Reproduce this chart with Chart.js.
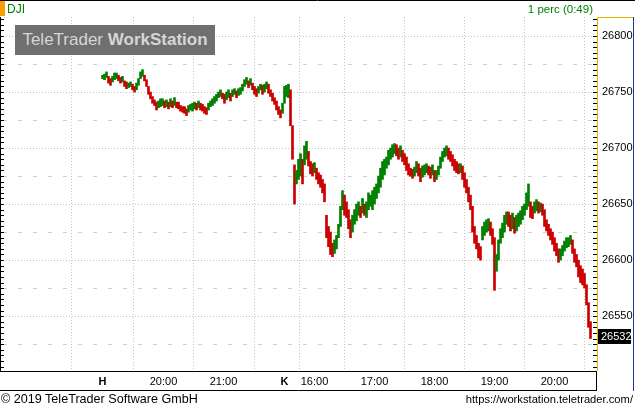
<!DOCTYPE html>
<html>
<head>
<meta charset="utf-8">
<script src="https://cdn.jsdelivr.net/npm/chart.js@4.4.1/dist/chart.umd.min.js"></script>
<style>
html, body { margin: 0; padding: 0; background: #fff; }
#wrap { position: relative; width: 635px; height: 408px; overflow: hidden; font-family: "Liberation Sans", Arial, sans-serif; }
#wrap canvas { position: absolute; left: 0; top: 0; }
.t { position: absolute; white-space: nowrap; font-size: 12px; line-height: 14px; }
#wm { position: absolute; left: 15px; top: 25px; width: 200px; height: 30px; background: #6f6f6f; color: #d6d6d6;
      font-size: 17px; line-height: 30px; text-align: center; white-space: nowrap; }
</style>
</head>
<body>
<div id="wrap">
  <canvas id="chart" width="635" height="408"></canvas>
  <div class="t" style="left:7px;top:2px;color:#008000">DJI</div>
  <div class="t" style="right:42px;top:2px;color:#008000;font-size:11.5px">1 perc (0:49)</div>
  <div id="wm">TeleTrader <b>WorkStation</b></div>
  <div class="t" style="left:1px;top:392px;color:#000;font-size:12.6px">© 2019 TeleTrader Software GmbH</div>
  <div class="t" style="right:2px;top:392px;color:#000;font-size:11.2px">https://workstation.teletrader.com/</div>
</div>
<script>
// DJI 1-minute bars, shown every 2 minutes; x = minutes after Monday 19:00
const monStart = 0;
const tueStart = 182;   // Tuesday 15:30 sits right after Monday close
const barStep = 2;

const monLow = [26762, 26761, 26763, 26758, 26756, 26759, 26761, 26762, 26760, 26758,
  26759, 26755, 26753, 26754, 26755, 26752, 26750, 26752, 26756, 26762,
  26764, 26760, 26755, 26748, 26744, 26740, 26738, 26734, 26736, 26737,
  26738, 26736, 26737, 26735, 26737, 26736, 26738, 26736, 26735, 26733,
  26732, 26731, 26729, 26732, 26734, 26733, 26735, 26734, 26736, 26734,
  26733, 26731, 26730, 26734, 26737, 26738, 26740, 26742, 26745, 26746,
  26744, 26740, 26743, 26745, 26742, 26746, 26748, 26745, 26747, 26748,
  26751, 26755, 26757, 26754, 26756, 26752, 26748, 26746, 26749, 26752,
  26748, 26750, 26753, 26749, 26746, 26742, 26739, 26734, 26730, 26727,
  26731];
const monHigh = [26765, 26766, 26768, 26764, 26762, 26764, 26767, 26767, 26765, 26763,
  26764, 26760, 26759, 26758, 26759, 26757, 26755, 26758, 26762, 26768,
  26770, 26765, 26761, 26755, 26750, 26746, 26743, 26741, 26742, 26744,
  26744, 26742, 26743, 26741, 26744, 26742, 26745, 26741, 26741, 26738,
  26737, 26737, 26735, 26738, 26739, 26740, 26741, 26740, 26742, 26740,
  26739, 26737, 26736, 26740, 26742, 26744, 26746, 26748, 26750, 26752,
  26749, 26748, 26750, 26752, 26749, 26752, 26753, 26751, 26753, 26754,
  26757, 26761, 26763, 26760, 26762, 26758, 26755, 26753, 26755, 26757,
  26756, 26757, 26759, 26757, 26752, 26749, 26745, 26742, 26737, 26734,
  26740];

const tueLow = [26740, 26746, 26745, 26720, 26690, 26650, 26668, 26672, 26675, 26668,
  26685, 26690, 26684, 26677, 26675, 26678, 26672, 26668, 26665, 26660,
  26652, 26620, 26612, 26605, 26603, 26606, 26610, 26620, 26630, 26645,
  26640, 26638, 26628, 26620, 26625, 26632, 26635, 26640, 26638, 26642,
  26640, 26638, 26645, 26648, 26645, 26650, 26655, 26660, 26665, 26672,
  26676, 26682, 26685, 26690, 26692, 26695, 26693, 26690, 26692, 26688,
  26685, 26680, 26676, 26675, 26673, 26675, 26678, 26675, 26670, 26674,
  26676, 26678, 26676, 26673, 26676, 26670, 26672, 26676, 26682, 26688,
  26692, 26693, 26690, 26688, 26684, 26680, 26678, 26677, 26678, 26672,
  26665, 26660, 26652, 26645, 26625, 26615, 26610, 26602, 26600, 26618,
  26622, 26625, 26626, 26622, 26614, 26573, 26590, 26600, 26615, 26620,
  26625, 26632, 26630, 26626, 26628, 26624, 26626, 26630, 26632, 26636,
  26640, 26645, 26648, 26638, 26637, 26642, 26644, 26642, 26643, 26640,
  26630, 26626, 26622, 26618, 26614, 26608, 26604, 26598, 26600, 26604,
  26608, 26611, 26612, 26614, 26606, 26598, 26594, 26585, 26580, 26578,
  26575, 26560, 26540, 26530];
const tueHigh = [26755, 26756, 26757, 26752, 26720, 26685, 26680, 26690, 26695, 26690,
  26702, 26706, 26697, 26688, 26686, 26687, 26682, 26678, 26676, 26672,
  26668, 26640, 26630, 26625, 26615, 26618, 26622, 26632, 26648, 26662,
  26658, 26652, 26645, 26636, 26640, 26645, 26650, 26652, 26648, 26655,
  26650, 26652, 26660, 26658, 26662, 26665, 26668, 26675, 26682, 26688,
  26690, 26692, 26698, 26700, 26703, 26704, 26703, 26700, 26702, 26698,
  26695, 26692, 26686, 26682, 26681, 26683, 26688, 26686, 26682, 26684,
  26685, 26686, 26684, 26683, 26685, 26680, 26680, 26684, 26692, 26697,
  26700, 26702, 26700, 26697, 26694, 26690, 26688, 26686, 26686, 26684,
  26678, 26672, 26665, 26658, 26648, 26630, 26622, 26615, 26612, 26630,
  26634, 26636, 26637, 26634, 26628, 26620, 26605, 26618, 26628, 26633,
  26640, 26643, 26643, 26640, 26642, 26638, 26640, 26642, 26644, 26648,
  26650, 26660, 26668, 26652, 26648, 26652, 26654, 26652, 26651, 26650,
  26645, 26636, 26632, 26628, 26625, 26620, 26615, 26610, 26610, 26613,
  26617, 26620, 26620, 26622, 26618, 26610, 26605, 26600, 26595, 26592,
  26588, 26578, 26562, 26545];

const lastPrice = 26532;
const xTickPos = [0, 61, 121, 182, 212, 272, 332, 392, 452];
const xTickLabels = ['H', '20:00', '21:00', 'K', '16:00', '17:00', '18:00', '19:00', '20:00'];
const yMin = 26501;
const yMax = 26817;

const GREEN = '#008000';
const RED = '#cc0000';

const bars = [];
monLow.forEach((lo, i) => bars.push({ x: monStart + i * barStep, y: [lo, monHigh[i]] }));
tueLow.forEach((lo, i) => bars.push({ x: tueStart + i * barStep, y: [lo, tueHigh[i]] }));

// up / down colour from the bar's middle against the one before
const barColors = bars.map((b, i) => {
  const mid = (b.y[0] + b.y[1]) / 2;
  const prev = i ? (bars[i - 1].y[0] + bars[i - 1].y[1]) / 2 : mid;
  return mid >= prev ? GREEN : RED;
});

// minor ticks every 5 points
const yTicks = [];
for (let v = Math.ceil(yMin / 5) * 5; v <= yMax; v += 5) yTicks.push(v);

const framePlugin = {
  id: 'frame',
  afterDraw(chart) {
    const c = chart.ctx;
    const a = chart.chartArea;
    const ys = chart.scales.y;
    c.save();
    // axis tick marks both sides
    c.strokeStyle = '#000';
    c.lineWidth = 1;
    ys.ticks.forEach(t => {
      const py = Math.round(ys.getPixelForValue(t.value)) + 0.5;
      c.beginPath();
      c.moveTo(0, py); c.lineTo(4, py);
      c.moveTo(a.right - 4, py); c.lineTo(a.right, py);
      c.stroke();
    });
    // frame lines
    c.beginPath();
    c.moveTo(0, 0.5); c.lineTo(635, 0.5);
    c.moveTo(0.5, a.top); c.lineTo(0.5, a.bottom);
    c.moveTo(0, a.bottom + 0.5); c.lineTo(a.right, a.bottom + 0.5);
    c.moveTo(0, 390.5); c.lineTo(a.right, 390.5);
    c.moveTo(a.right - 0.5, a.bottom); c.lineTo(a.right - 0.5, 391);
    c.stroke();
    c.strokeStyle = '#e8b400';
    c.beginPath();
    c.moveTo(a.right + 0.5, a.top); c.lineTo(a.right + 0.5, a.bottom);
    c.moveTo(a.right, a.top + 0.5); c.lineTo(633, a.top + 0.5);
    c.stroke();
    c.strokeStyle = '#1c3a9c';
    c.beginPath();
    c.moveTo(633.5, a.top); c.lineTo(633.5, 391);
    c.stroke();
    // header marker
    c.fillStyle = '#f5a000';
    c.fillRect(0, 1, 5, 15);
    // last price box
    const ly = ys.getPixelForValue(lastPrice);
    c.fillStyle = '#000';
    c.fillRect(a.right + 1, Math.round(ly) - 7, 33, 15);
    c.fillStyle = '#fff';
    c.font = '11px "Liberation Sans", Arial, sans-serif';
    c.textBaseline = 'middle';
    c.textAlign = 'left';
    c.fillText(String(lastPrice), a.right + 4, Math.round(ly) + 1);
    c.restore();
  }
};

new Chart(document.getElementById('chart'), {
  type: 'bar',
  data: {
    datasets: [{
      data: bars,
      backgroundColor: barColors,
      borderWidth: 0,
      barThickness: 2
    }]
  },
  options: {
    responsive: false,
    animation: false,
    devicePixelRatio: 1,
    layout: { padding: { left: 3, top: 17, right: 0, bottom: 0 } },
    plugins: { legend: { display: false }, tooltip: { enabled: false } },
    scales: {
      x: {
        type: 'linear',
        min: -99.5,
        max: 494.5,
        offset: false,
        afterBuildTicks: s => { s.ticks = xTickPos.map(v => ({ value: v })); },
        afterFit: s => { s.height = 37; },
        grid: { color: '#c4c4c4', drawTicks: false },
        border: { display: false, dash: [1, 2] },
        ticks: {
          autoSkip: false,
          maxRotation: 0,
          padding: 4,
          color: '#000',
          font: ctx => ({ family: '"Liberation Sans", Arial, sans-serif', size: 11,
            weight: (ctx.index === 0 || ctx.index === 3) ? 'bold' : 'normal' }),
          callback: (v, i) => xTickLabels[i]
        }
      },
      y: {
        position: 'right',
        min: yMin,
        max: yMax,
        afterBuildTicks: s => { s.ticks = yTicks.map(v => ({ value: v })); },
        afterFit: s => { s.width = 38; },
        grid: {
          drawTicks: false,
          color: ctx => {
            const v = ctx.tick ? ctx.tick.value : 1;
            if (v % 50 === 0) return '#c4c4c4';
            if (v % 25 === 0) return '#d0d0d0';
            return 'rgba(0,0,0,0)';
          }
        },
        border: {
          display: false,
          dash: ctx => (ctx.tick && ctx.tick.value % 50 === 0) ? [1, 2] : [4, 11]
        },
        ticks: {
          autoSkip: false,
          padding: 5,
          color: '#000',
          font: { family: '"Liberation Sans", Arial, sans-serif', size: 11 },
          callback: v => (v % 50 === 0 ? String(v) : '')
        }
      }
    }
  },
  plugins: [framePlugin]
});
</script>
</body>
</html>
